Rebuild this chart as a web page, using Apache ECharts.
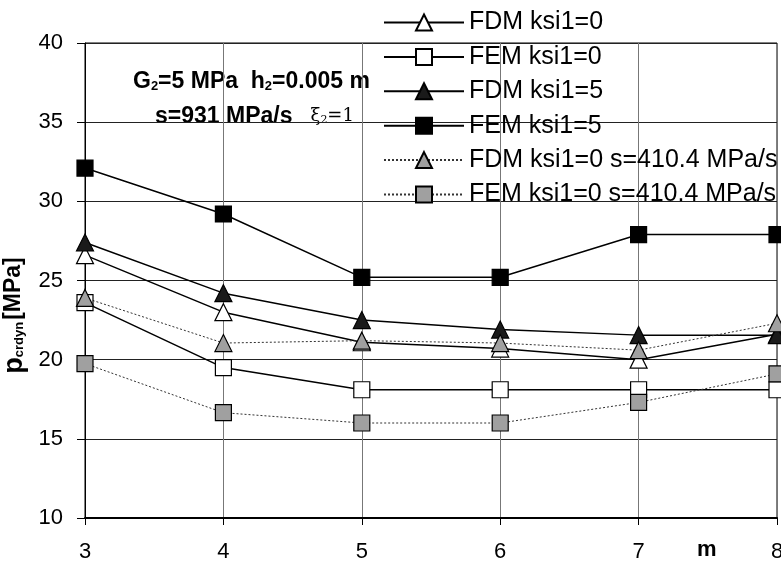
<!DOCTYPE html>
<html><head><meta charset="utf-8">
<script src="https://cdn.jsdelivr.net/npm/echarts@6/dist/echarts.min.js"></script>
<style>html,body{margin:0;padding:0;background:#fff}#c{width:781px;height:565px}</style>
</head><body><div id="c"></div>
<script>
const mValues = [3, 4, 5, 6, 7, 8];
const seriesNames = ['FDM ksi1=0', 'FEM ksi1=0', 'FDM ksi1=5', 'FEM ksi1=5', 'FDM ksi1=0 s=410.4 MPa/s', 'FEM ksi1=0 s=410.4 MPa/s'];
const fdmKsi0 = [26.6, 23.0, 21.1, 20.7, 20.0, 21.6];
const femKsi0 = [23.6, 19.5, 18.1, 18.1, 18.1, 18.1];
const fdmKsi5 = [27.4, 24.2, 22.5, 21.9, 21.55, 21.55];
const femKsi5 = [32.1, 29.2, 25.2, 25.2, 27.9, 27.9];
const fdmS410 = [23.9, 21.05, 21.2, 21.05, 20.6, 22.3];
const femS410 = [19.75, 16.65, 16.0, 16.0, 17.3, 19.1];
const yTicks = [10, 15, 20, 25, 30, 35, 40];

const pair = arr => arr.map((v, i) => [mValues[i], v]);
const FONT = 'Liberation Sans, Arial, sans-serif';

function mk(name, data, symbol, fill, dotted) {
  return {
    name, type: 'line', data: pair(data), symbol, symbolSize: symbol === 'rect' ? 16 : 17,
    itemStyle: { color: fill, borderColor: '#000', borderWidth: 1.2 },
    lineStyle: dotted ? { color: '#333', width: 1, type: [2, 2] } : { color: '#000', width: 1.5 },
    emphasis: { disabled: true }, animation: false
  };
}

const chart = echarts.init(document.getElementById('c'), null, { renderer: 'canvas' });
chart.setOption({
  animation: false,
  backgroundColor: '#fff',
  grid: { left: 85, right: 4, top: 43, bottom: 47, show: true, borderColor: '#000', borderWidth: 1, outerBoundsMode: 'none', containLabel: false },
  xAxis: {
    type: 'value', min: 3, max: 8, interval: 1,
    axisLine: { show: true, onZero: false, lineStyle: { color: '#000', width: 2 } },
    axisTick: { show: true, length: 7, lineStyle: { color: '#000' } },
    axisLabel: { color: '#000', fontSize: 22, fontFamily: FONT, margin: 23 },
    splitLine: { show: true, lineStyle: { color: '#777', width: 1 } }
  },
  yAxis: {
    type: 'value', min: 10, max: 40, interval: 5,
    axisLine: { show: true, lineStyle: { color: '#000', width: 1 } },
    axisTick: { show: true, length: 8, lineStyle: { color: '#000' } },
    axisLabel: { color: '#000', fontSize: 22, fontFamily: FONT, margin: 22 },
    splitLine: { show: true, lineStyle: { color: '#222', width: 1 } },
    name: '{p|p}{s|crdyn}{b|[MPa]}',
    nameLocation: 'middle', nameRotate: 90, nameGap: 45,
    nameTextStyle: {
      padding: [0, 70, 0, 0],
      rich: {
        p: { fontSize: 27, fontWeight: 'bold', color: '#000', fontFamily: FONT },
        s: { fontSize: 13, fontWeight: 'bold', color: '#000', fontFamily: FONT, padding: [10, 2, 0, 0] },
        b: { fontSize: 23, fontWeight: 'bold', color: '#000', fontFamily: FONT }
      }
    }
  },
  legend: {
    orient: 'vertical', left: 378, top: 5,
    itemWidth: 80, itemHeight: 20, itemGap: 9.4,
    data: seriesNames,
    textStyle: { fontSize: 25, fontFamily: FONT, color: '#000', lineHeight: 24 },
    selectedMode: false
  },
  graphic: [
    {
      type: 'text', left: 133, top: 70,
      style: {
        text: '{t|G}{s|2}{t|=5 MPa  h}{s|2}{t|=0.005 m}',
        rich: {
          t: { fontSize: 23, fontWeight: 'bold', fontFamily: FONT, fill: '#000' },
          s: { fontSize: 13, fontWeight: 'bold', fontFamily: FONT, fill: '#000', padding: [9, 0, 0, 0] }
        }
      }
    },
    {
      type: 'text', left: 155, top: 105,
      style: {
        text: '{t|s=931 MPa/s}{x|ξ}{s|2}{x|=1}',
        rich: {
          t: { fontSize: 23, fontWeight: 'bold', fontFamily: FONT, fill: '#000', padding: [0, 18, 0, 0] },
          x: { fontSize: 18, fontFamily: 'DejaVu Serif, serif', fill: '#000' },
          s: { fontSize: 11, fontFamily: 'DejaVu Serif, serif', fill: '#000', padding: [8, 0, 0, 0] }
        }
      }
    },
    {
      type: 'text', left: 697, top: 539,
      style: { text: 'm', fontSize: 22, fontWeight: 'bold', fontFamily: FONT, fill: '#000' }
    }
  ],
  series: [
    mk(seriesNames[0], fdmKsi0, 'triangle', '#fff', false),
    mk(seriesNames[1], femKsi0, 'rect', '#fff', false),
    mk(seriesNames[2], fdmKsi5, 'triangle', '#1a1a1a', false),
    mk(seriesNames[3], femKsi5, 'rect', '#000', false),
    mk(seriesNames[4], fdmS410, 'triangle', '#a0a0a0', true),
    mk(seriesNames[5], femS410, 'rect', '#a0a0a0', true)
  ]
});
</script></body></html>
